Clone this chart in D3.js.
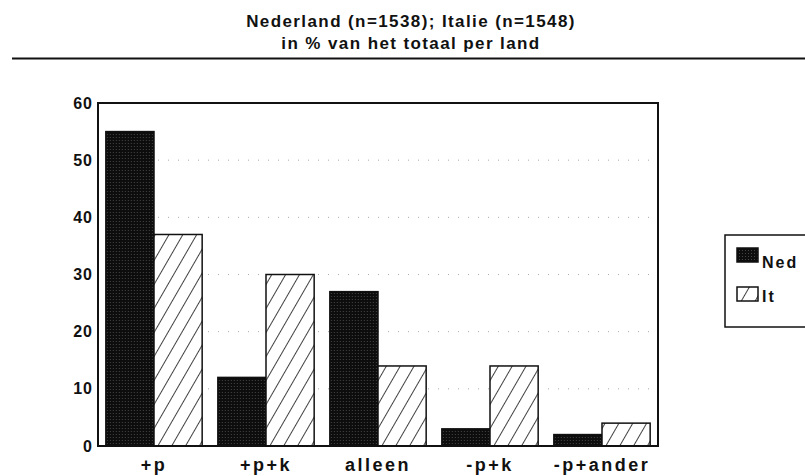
<!DOCTYPE html>
<html>
<head>
<meta charset="utf-8">
<script src="https://cdn.jsdelivr.net/npm/d3@7"></script>
<style>
  body { margin: 0; background: #fff; }
  text { font-family: "Liberation Sans", Arial, sans-serif; font-weight: bold; fill: #111; }
</style>
</head>
<body>
<div id="chart"></div>
<script>
// categories and series
var categories = ["+p", "+p+k", "alleen", "-p+k", "-p+ander"];
var ned = [55, 12, 27, 3, 2];
var ita = [37, 30, 14, 14, 4];
var series = ["Ned", "It"];
var yTicks = [0, 10, 20, 30, 40, 50, 60];

var W = 805, H = 476;
var margin = {top: 103, left: 98, right: 147, bottom: 30};
var width = W - margin.left - margin.right,
    height = H - margin.top - margin.bottom;

var svg = d3.select("#chart").append("svg")
    .attr("width", W)
    .attr("height", H);

var defs = svg.append("defs");
// hatch pattern for It
var hatch = defs.append("pattern")
    .attr("id", "hatch")
    .attr("width", 12)
    .attr("height", 12)
    .attr("patternUnits", "userSpaceOnUse")
    .attr("patternTransform", "rotate(30)");
hatch.append("rect").attr("width", 12).attr("height", 12).attr("fill", "#fff");
hatch.append("line")
    .attr("x1", 0).attr("y1", 0).attr("x2", 0).attr("y2", 12)
    .attr("stroke", "#111").attr("stroke-width", 1.6);

// dark stipple for Ned
var stip = defs.append("pattern")
    .attr("id", "stip")
    .attr("width", 3)
    .attr("height", 3)
    .attr("patternUnits", "userSpaceOnUse");
stip.append("rect").attr("width", 3).attr("height", 3).attr("fill", "#0d0d0d");
stip.append("rect").attr("x", 1).attr("y", 1).attr("width", 1).attr("height", 1).attr("fill", "#444");

// title
svg.append("text")
    .attr("x", 411).attr("y", 27)
    .attr("text-anchor", "middle")
    .style("font-size", "17px")
    .style("letter-spacing", "1.4px")
    .text("Nederland (n=1538); Italie (n=1548)");
svg.append("text")
    .attr("x", 411).attr("y", 49)
    .attr("text-anchor", "middle")
    .style("font-size", "17px")
    .style("letter-spacing", "1.4px")
    .text("in % van het totaal per land");
svg.append("line")
    .attr("x1", 12).attr("x2", W).attr("y1", 58.5).attr("y2", 58.5)
    .attr("stroke", "#111").attr("stroke-width", 2);

var g = svg.append("g")
    .attr("transform", "translate(" + margin.left + "," + margin.top + ")");

var x0 = d3.scaleBand()
    .domain(categories)
    .range([0, width])
    .paddingInner(0.14)
    .paddingOuter(0.07);

var x1 = d3.scaleBand()
    .domain(series)
    .range([0, x0.bandwidth()]);

var y = d3.scaleLinear()
    .domain([0, 60])
    .range([height, 0]);

// faint dotted gridlines
g.selectAll(".grid")
    .data(yTicks.slice(1, -1))
    .enter().append("line")
    .attr("class", "grid")
    .attr("x1", 0).attr("x2", width)
    .attr("y1", function (d) { return y(d); })
    .attr("y2", function (d) { return y(d); })
    .attr("stroke", "#aaa")
    .attr("stroke-width", 1)
    .attr("stroke-dasharray", "1,9");

var rows = categories.map(function (c, i) {
    return {cat: c, vals: [{s: "Ned", v: ned[i]}, {s: "It", v: ita[i]}]};
});

var groups = g.selectAll(".grp")
    .data(rows)
    .enter().append("g")
    .attr("transform", function (d) { return "translate(" + x0(d.cat) + ",0)"; });

groups.selectAll("rect")
    .data(function (d) { return d.vals; })
    .enter().append("rect")
    .attr("x", function (d) { return x1(d.s); })
    .attr("y", function (d) { return y(d.v); })
    .attr("width", x1.bandwidth())
    .attr("height", function (d) { return height - y(d.v); })
    .attr("fill", function (d) { return d.s == "Ned" ? "url(#stip)" : "url(#hatch)"; })
    .attr("stroke", "#111")
    .attr("stroke-width", 1.5);

// frame
g.append("rect")
    .attr("x", 0).attr("y", 0)
    .attr("width", width).attr("height", height)
    .attr("fill", "none")
    .attr("stroke", "#111")
    .attr("stroke-width", 2);

// y axis labels, no tick marks
var yAxis = d3.axisLeft(y).tickValues(yTicks).tickSize(0).tickPadding(5);
var gy = g.append("g").call(yAxis);
gy.select(".domain").remove();
gy.selectAll("text")
    .style("font-size", "16px")
    .style("letter-spacing", "1px")
    .attr("fill", "#111");

// x axis labels
var xAxis = d3.axisBottom(x0).tickSize(0).tickPadding(12);
var gx = g.append("g").attr("transform", "translate(0," + height + ")").call(xAxis);
gx.select(".domain").remove();
gx.selectAll("text")
    .style("font-size", "18px")
    .style("letter-spacing", "2.5px")
    .attr("fill", "#111");

// legend
var leg = svg.append("g");
leg.append("rect")
    .attr("x", 725).attr("y", 235)
    .attr("width", 90).attr("height", 92)
    .attr("fill", "#fff")
    .attr("stroke", "#111")
    .attr("stroke-width", 1.5);
series.forEach(function (s, i) {
    leg.append("rect")
        .attr("x", 737).attr("y", 248 + i * 39)
        .attr("width", 21).attr("height", 14)
        .attr("fill", s == "Ned" ? "url(#stip)" : "url(#hatch)")
        .attr("stroke", "#111")
        .attr("stroke-width", 1.5);
    leg.append("text")
        .attr("x", 762).attr("y", 268 + i * 34)
        .style("font-size", "16px")
        .style("letter-spacing", "2px")
        .text(s);
});
</script>
</body>
</html>
